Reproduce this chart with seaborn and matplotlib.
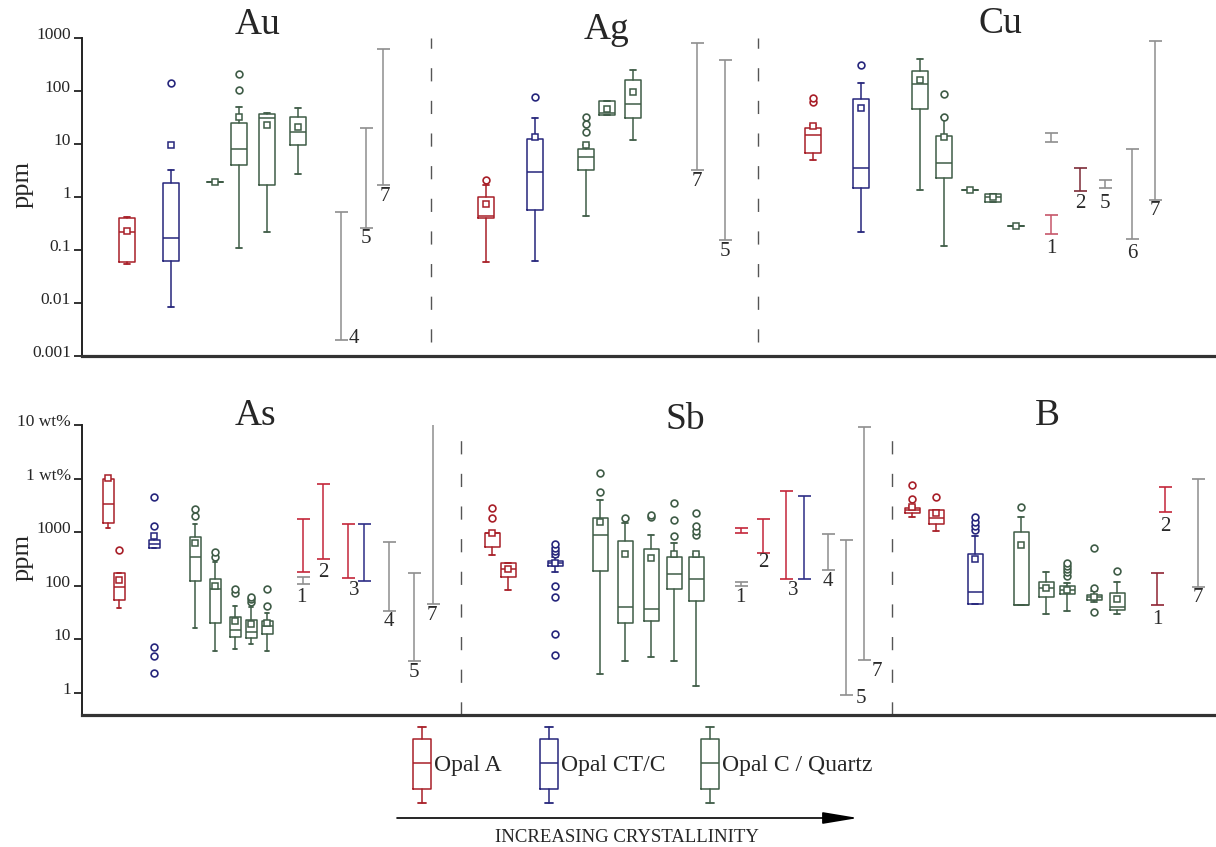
import matplotlib
matplotlib.use('Agg')
import matplotlib.pyplot as plt
import matplotlib.transforms as mtransforms
from matplotlib.ticker import NullLocator
import numpy as np
import pandas as pd
import seaborn as sns

sns.set_style('ticks')
plt.rcParams['font.family'] = ['Liberation Serif', 'DejaVu Serif']

W, H = 1216, 847

# silica phase colours
COLORS = {'A': '#a81f28', 'CT': '#26267c', 'C': '#3f5c47'}
RCOL = {'grey': '#8e8e8e', 'red': '#c4263a', 'pink': '#c65669', 'maroon': '#7d2b37',
        'blue': '#2e2e86', 'darkred': '#8f2433'}

# ---------------- Au ----------------
au_group = ['A', 'CT', 'C', 'C', 'C', 'C']
au_q1 = [0.06, 0.063, 1.9, 4.1, 1.65, 9.4]
au_med = [0.22, 0.17, 1.9, 7.9, 31, 16.6]
au_q3 = [0.41, 1.8, 1.9, 24.7, 36.5, 32]
au_lo = [0.055, 0.0085, 1.9, 0.11, 0.22, 2.7]
au_hi = [0.42, 3.2, 1.9, 49, 38, 47]
au_mean = [0.23, 9.4, 1.9, 32, 22.6, 21]
au_out = [[], [140], [], [104, 209], [], []]
au_rng_lo = [0.002, 0.26, 1.65]
au_rng_hi = [0.51, 20, 620]
au_rng_lab = ['4', '5', '7']
au_rng_col = ['grey', 'grey', 'grey']

# ---------------- Ag ----------------
ag_group = ['A', 'CT', 'C', 'C', 'C']
ag_q1 = [0.41, 0.58, 3.3, 36, 30.6]
ag_med = [0.43, 3.0, 5.6, 38, 56]
ag_q3 = [1.0, 12.2, 7.9, 64, 160]
ag_lo = [0.06, 0.063, 0.43, 36, 11.8]
ag_hi = [1.65, 31, 9.4, 64, 245]
ag_mean = [0.75, 13.4, 9.4, 45, 95]
ag_out = [[2.1], [76], [16.6, 23.5, 32], [], []]
ag_rng_lo = [3.3, 0.157]
ag_rng_hi = [805, 385]
ag_rng_lab = ['7', '5']
ag_rng_col = ['grey', 'grey']

# ---------------- Cu ----------------
cu_group = ['A', 'CT', 'C', 'C', 'C', 'C', 'C']
cu_q1 = [6.7, 1.45, 45, 2.3, 1.38, 0.82, 0.28]
cu_med = [14.5, 3.46, 134, 4.3, 1.38, 1.0, 0.28]
cu_q3 = [19.8, 70, 237, 14, 1.38, 1.16, 0.28]
cu_lo = [4.9, 0.22, 1.33, 0.12, 1.38, 0.82, 0.28]
cu_hi = [22.6, 141, 400, 33, 1.38, 1.16, 0.28]
cu_mean = [21.6, 47, 160, 13.4, 1.38, 1.0, 0.28]
cu_out = [[62, 73], [309], [], [33, 87], [], [], []]
cu_rng_lo = [10.7, 0.2, 1.27, 1.45, 0.16, 0.86]
cu_rng_hi = [16, 0.45, 3.5, 2.1, 7.9, 870]
cu_rng_lab = ['', '1', '2', '5', '6', '7']
cu_rng_col = ['grey', 'pink', 'maroon', 'grey', 'grey', 'grey']

# ---------------- As ----------------
as_group = ['A', 'A', 'CT', 'C', 'C', 'C', 'C', 'C']
as_q1 = [1480, 54, 500, 123, 20, 11, 10.6, 12.6]
as_med = [3370, 95, 600, 345, 87, 15, 13.8, 17.8]
as_q3 = [9800, 174, 715, 815, 134, 26, 23, 22]
as_lo = [1200, 38.5, 500, 16.3, 6.1, 6.6, 8.2, 6.1]
as_hi = [10700, 174, 850, 1420, 277, 42, 40, 31]
as_mean = [10300, 128, 850, 630, 100, 22, 19.5, 20]
as_out = [[], [465], [2.4, 4.9, 7.2, 1300, 4550], [2000, 2700], [345, 427],
          [73, 87], [50, 56, 62], [42, 87]]
as_rng_lo = [181, 107, 316, 140, 123, 34, 4, 46]
as_rng_hi = [1760, 145, 7900, 1420, 1420, 660, 174, 147000]
as_rng_lab = ['', '1', '2', '3', '', '4', '5', '7']
as_rng_col = ['red', 'grey', 'red', 'red', 'blue', 'grey', 'grey', 'grey']

# ---------------- Sb ----------------
sb_group = ['A', 'A', 'CT', 'C', 'C', 'C', 'C', 'C']
sb_q1 = [525, 146, 234, 189, 20, 22, 87, 52]
sb_med = [960, 205, 266, 890, 40, 37, 166, 134]
sb_q3 = [966, 266, 290, 1840, 686, 486, 344, 344]
sb_lo = [376, 83, 181, 2.26, 4, 4.7, 4, 1.35]
sb_hi = [966, 266, 346, 4000, 1480, 890, 630, 390]
sb_mean = [966, 205, 266, 1550, 390, 330, 390, 390]
sb_out = [[1840, 2800], [], [5.1, 12.6, 62, 99, 390, 445, 507, 600], [5600, 12700],
          [1840], [1930, 2090], [850, 1700, 3500], [890, 1050, 1300, 2300]]
sb_rng_lo = [970, 99, 410, 134, 134, 198, 0.92, 4.1]
sb_rng_hi = [1200, 118, 1760, 5900, 4730, 925, 715, 91600]
sb_rng_lab = ['', '1', '2', '3', '', '4', '5', '7']
sb_rng_col = ['red', 'grey', 'red', 'red', 'blue', 'grey', 'grey', 'grey']

# ---------------- B ----------------
b_group = ['A', 'A', 'CT', 'C', 'C', 'C', 'C', 'C']
b_q1 = [2270, 1420, 46, 44, 62, 71, 54, 35.5]
b_med = [2550, 1840, 76, 44, 91, 83, 62, 40]
b_q3 = [2820, 2600, 390, 1000, 118, 100, 67, 73]
b_lo = [1910, 1050, 46, 44, 30, 34, 50, 30]
b_hi = [3080, 2600, 850, 1900, 180, 112, 80, 118]
b_mean = [3000, 2270, 316, 575, 91, 83, 62, 57]
b_out = [[4170, 7600], [4540], [1100, 1300, 1540, 1900], [2950], [],
         [152, 180, 205, 234, 266], [32, 91, 505], [189]]
b_rng_lo = [44, 2380, 95]
b_rng_hi = [174, 6960, 9800]
b_rng_lab = ['1', '2', '7']
b_rng_col = ['darkred', 'red', 'grey']

# ---------------- layout (x in figure pixels) ----------------
au_x, au_rx = [127, 171, 215, 239, 267, 298], [341, 366, 383]
au_ldx, au_ldy = [13, 0, 2], [-2, 10, 11]
ag_x, ag_rx = [486, 535, 586, 607, 633], [697, 725]
ag_ldx, ag_ldy = [0, 0], [12, 12]
cu_x, cu_rx = [813, 861, 920, 944, 970, 993, 1016], [1051, 1051, 1080, 1105, 1132, 1155]
cu_ldx, cu_ldy = [0, 0, 0, 0, 0, 0], [0, 14, 12, 15, 14, 10]
as_x = [108, 119, 154, 195, 215, 235, 251, 267]
as_rx = [303, 303, 323, 348, 364, 389, 414, 433]
as_ldx, as_ldy = [0, -2, 0, 6, 0, 0, 0, -1], [0, 13, 13, 13, 0, 11, 12, 12]
sb_x = [492, 508, 555, 600, 625, 651, 674, 696]
sb_rx = [741, 741, 763, 786, 804, 828, 846, 864]
sb_ldx, sb_ldy = [0, -1, 0, 7, 0, 0, 15, 13], [0, 11, 10, 12, 0, 12, 4, 11]
b_x, b_rx = [912, 936, 975, 1021, 1046, 1067, 1094, 1117], [1157, 1165, 1198]
b_ldx, b_ldy = [0, 0, 0], [15, 14, 11]


def draw_boxes(ax, x, group, q1, med, q3, lo, hi, mean, out, width):
    for i in range(len(x)):
        c = COLORS[group[i]]
        st = [dict(q1=q1[i], med=med[i], q3=q3[i], whislo=lo[i], whishi=hi[i],
                   mean=mean[i], fliers=[])]
        ax.bxp(st, positions=[x[i]], widths=width, capwidths=width * 0.4,
               showmeans=True, showfliers=False, manage_ticks=False,
               boxprops=dict(color=c, lw=1.1), medianprops=dict(color=c, lw=1.1),
               whiskerprops=dict(color=c, lw=1.1), capprops=dict(color=c, lw=1.3),
               meanprops=dict(marker='s', markersize=4.2, markerfacecolor='white',
                              markeredgecolor=c, markeredgewidth=1.1))
    # outliers through seaborn
    rows = [(x[i], v, group[i]) for i in range(len(x)) for v in out[i]]
    df = pd.DataFrame(rows, columns=['x', 'v', 'g'])
    for g, sub in df.groupby('g'):
        sns.scatterplot(data=sub, x='x', y='v', marker='o', s=24, facecolor='white',
                        edgecolor=COLORS[g], linewidth=1.2, ax=ax, zorder=5)


def draw_ranges(ax, rx, lo, hi, lab, col, ldx, ldy):
    rx = np.asarray(rx, dtype=float)
    cols = [RCOL[c] for c in col]
    ax.vlines(rx, lo, hi, colors=cols, lw=1.1)
    ax.hlines(lo, rx - 6.5, rx + 6.5, colors=cols, lw=1.2)
    ax.hlines(hi, rx - 6.5, rx + 6.5, colors=cols, lw=1.2)
    for i in range(len(rx)):
        if lab[i]:
            ax.annotate(lab[i], xy=(rx[i], lo[i]), xytext=(ldx[i], -ldy[i]),
                        textcoords='offset pixels', ha='center', va='center',
                        fontsize=15, color='#2a2a2a')


def style_axis(ax, ylim, ticks, labels, label_y):
    ax.set_yscale('log')
    ax.set_xlim(82, W)
    ax.set_ylim(*ylim)
    ax.set_yticks(ticks)
    ax.set_yticklabels(labels)
    ax.yaxis.set_minor_locator(NullLocator())
    ax.set_xticks([])
    ax.set_xlabel('')
    ax.set_ylabel('ppm', fontsize=19)
    ax.yaxis.set_label_coords(-0.043, label_y)
    sns.despine(ax=ax)
    ax.spines['left'].set_linewidth(1.4)
    ax.spines['left'].set_color('#222222')
    ax.spines['bottom'].set_linewidth(2.3)
    ax.spines['bottom'].set_color('#333333')
    ax.tick_params(axis='y', length=6, width=1.3, direction='out', labelsize=12.5,
                   pad=2, color='#222222')
    offset = mtransforms.ScaledTranslation(0, 5 / 100, ax.figure.dpi_scale_trans)
    for t in ax.get_yticklabels():
        t.set_transform(t.get_transform() + offset)


fig = plt.figure(figsize=(W / 100, H / 100), dpi=100)

# legend / arrow layer in pixel coordinates
leg = fig.add_axes([0, 0, 1, 1], zorder=-1)
leg.set_xlim(0, W)
leg.set_ylim(H, 0)
leg.axis('off')

ax_top = fig.add_axes([82 / W, 1 - 356 / H, (W - 82) / W, (356 - 38) / H])
ax_bot = fig.add_axes([82 / W, 1 - 715 / H, (W - 82) / W, (715 - 425) / H])

draw_boxes(ax_top, au_x, au_group, au_q1, au_med, au_q3, au_lo, au_hi, au_mean, au_out, 16)
draw_boxes(ax_top, ag_x, ag_group, ag_q1, ag_med, ag_q3, ag_lo, ag_hi, ag_mean, ag_out, 16)
draw_boxes(ax_top, cu_x, cu_group, cu_q1, cu_med, cu_q3, cu_lo, cu_hi, cu_mean, cu_out, 16)
draw_ranges(ax_top, au_rx, au_rng_lo, au_rng_hi, au_rng_lab, au_rng_col, au_ldx, au_ldy)
draw_ranges(ax_top, ag_rx, ag_rng_lo, ag_rng_hi, ag_rng_lab, ag_rng_col, ag_ldx, ag_ldy)
draw_ranges(ax_top, cu_rx, cu_rng_lo, cu_rng_hi, cu_rng_lab, cu_rng_col, cu_ldx, cu_ldy)

draw_boxes(ax_bot, as_x, as_group, as_q1, as_med, as_q3, as_lo, as_hi, as_mean, as_out, 11)
draw_boxes(ax_bot, sb_x, sb_group, sb_q1, sb_med, sb_q3, sb_lo, sb_hi, sb_mean, sb_out, 15)
draw_boxes(ax_bot, b_x, b_group, b_q1, b_med, b_q3, b_lo, b_hi, b_mean, b_out, 15)
draw_ranges(ax_bot, as_rx, as_rng_lo, as_rng_hi, as_rng_lab, as_rng_col, as_ldx, as_ldy)
draw_ranges(ax_bot, sb_rx, sb_rng_lo, sb_rng_hi, sb_rng_lab, sb_rng_col, sb_ldx, sb_ldy)
draw_ranges(ax_bot, b_rx, b_rng_lo, b_rng_hi, b_rng_lab, b_rng_col, b_ldx, b_ldy)

style_axis(ax_top, (0.001, 1000), [0.001, 0.01, 0.1, 1, 10, 100, 1000],
           ['0.001', '0.01', '0.1', '1', '10', '100', '1000'], 0.54)
style_axis(ax_bot, (10 ** (-22 / 53.6), 1e5), [1, 10, 100, 1000, 1e4, 1e5],
           ['1', '10', '100', '1000', '1 wt%', '10 wt%'], 0.545)

# dashed separators
dash = dict(color='#555555', lw=1.0, ls=(0, (9.5, 14)))
for xs in (431, 758):
    ax_top.axvline(xs, ymin=0.044, ymax=1.0, **dash)
for xs in (461, 892):
    ax_bot.axvline(xs, ymin=0.0, ymax=1.0, **dash)

# element titles
titles = [('Au', 258, 34), ('Ag', 607, 39), ('Cu', 1000, 33),
          ('As', 255, 425), ('Sb', 685, 429), ('B', 1047, 425)]
for s, tx, ty in titles:
    fig.text(tx / W, 1 - ty / H, s, ha='center', va='baseline', fontsize=27)

# legend glyphs
legend_items = [('Opal A', 'A', 422), ('Opal CT/C', 'CT', 549), ('Opal C / Quartz', 'C', 710)]
for name, g, lx in legend_items:
    c = COLORS[g]
    leg.bxp([dict(q1=789, med=763, q3=739, whislo=803, whishi=727, fliers=[])],
            positions=[lx], widths=18, capwidths=8, showfliers=False, manage_ticks=False,
            boxprops=dict(color=c, lw=1.1), medianprops=dict(color=c, lw=1.1),
            whiskerprops=dict(color=c, lw=1.1), capprops=dict(color=c, lw=1.3))
    leg.text(lx + 12, 765, name, ha='left', va='center', fontsize=17)

leg.annotate('', xy=(858, 818), xytext=(397, 818),
             arrowprops=dict(arrowstyle='-|>,head_length=1.2,head_width=0.2',
                             mutation_scale=18, color='black', lw=1.2,
                             shrinkA=0, shrinkB=0))
leg.text(627, 837, 'INCREASING CRYSTALLINITY', ha='center', va='center', fontsize=13.5)
leg.set_xlim(0, W)
leg.set_ylim(H, 0)

fig.savefig('out.png', dpi=100)
